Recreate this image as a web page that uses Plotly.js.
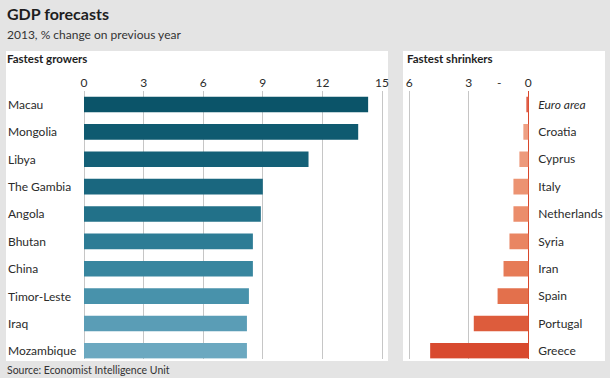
<!DOCTYPE html>
<html>
<head>
<meta charset="utf-8">
<script src="https://cdn.plot.ly/plotly-3.0.1.min.js"></script>
<style>html,body{margin:0;padding:0;background:#e4e4e4;}#chart{width:610px;height:378px;}</style>
</head>
<body>
<div id="chart"></div>
<script>
// Data
const growers = ["Macau","Mongolia","Libya","The Gambia","Angola","Bhutan","China","Timor-Leste","Iraq","Mozambique"];
const growerValues = [14.3, 13.8, 11.3, 9.0, 8.9, 8.5, 8.5, 8.3, 8.2, 8.2];
const growerColors = ["#0b5469","#0f5a70","#146077","#1a677f","#227189","#2d7c95","#38869f","#4892ab","#5a9db6","#6ba8c0"];

const shrinkers = ["Euro area","Croatia","Cyprus","Italy","Netherlands","Syria","Iran","Spain","Portugal","Greece"];
const shrinkerLabels = ["<i>Euro area</i>","Croatia","Cyprus","Italy","Netherlands","Syria","Iran","Spain","Portugal","Greece"];
const shrinkerValues = [0.1, 0.25, 0.45, 0.75, 0.75, 0.95, 1.25, 1.55, 2.75, 4.95];
const shrinkerColors = ["#e0604a","#eea084","#ed9a7c","#ec9372","#eb8d6b","#e98562","#e67b57","#e3704c","#dd5c3c","#d84a2f"];

const growerTicks = [0, 3, 6, 9, 12, 15];
const shrinkerTicks = [6, 3, 0];

const W = 610, H = 378;
const px = v => v / W;
const py = v => 1 - v / H;
const font = "Lato, 'Open Sans', sans-serif";

const traces = [
  {type: "bar", orientation: "h", x: growerValues, y: growers, xaxis: "x", yaxis: "y",
   marker: {color: growerColors}, hoverinfo: "x+y"},
  {type: "bar", orientation: "h", x: shrinkerValues, y: shrinkers, xaxis: "x2", yaxis: "y2",
   marker: {color: shrinkerColors}, hoverinfo: "x+y"}
];

const yDomain = [py(358.5), py(90.8)];

const annotations = growers.map(c => ({
  text: c, xref: "paper", yref: "y", x: px(6), y: c, xanchor: "left", yanchor: "middle",
  showarrow: false, font: {family: font, size: 12, color: "#2b2b2b"}
}));
annotations.push(
  {text: "<b>GDP forecasts</b>", xref: "paper", yref: "paper", x: px(5), y: py(14), xanchor: "left", yanchor: "middle",
   showarrow: false, font: {family: font, size: 16, color: "#1e1e1e"}},
  {text: "2013, % change on previous year", xref: "paper", yref: "paper", x: px(5), y: py(35), xanchor: "left", yanchor: "middle",
   showarrow: false, font: {family: font, size: 12, color: "#333"}},
  {text: "<b>Fastest growers</b>", xref: "paper", yref: "paper", x: px(5), y: py(58), xanchor: "left", yanchor: "middle",
   showarrow: false, font: {family: font, size: 11.5, color: "#1e1e1e"}},
  {text: "<b>Fastest shrinkers</b>", xref: "paper", yref: "paper", x: px(405), y: py(58), xanchor: "left", yanchor: "middle",
   showarrow: false, font: {family: font, size: 11.5, color: "#1e1e1e"}},
  {text: "Source: Economist Intelligence Unit", xref: "paper", yref: "paper", x: px(5), y: py(370), xanchor: "left", yanchor: "middle",
   showarrow: false, font: {family: font, size: 10.5, color: "#333"}},
  {text: "-", xref: "x2", yref: "paper", x: 1.5, y: py(82), xanchor: "center", yanchor: "middle",
   showarrow: false, font: {family: font, size: 12, color: "#333"}}
);

const layout = {
  width: W, height: H,
  margin: {l: 0, r: 0, t: 0, b: 0},
  paper_bgcolor: "#e4e4e4",
  plot_bgcolor: "rgba(0,0,0,0)",
  showlegend: false,
  bargap: 0.43,
  shapes: [
    {type: "rect", xref: "paper", yref: "paper", x0: px(6), x1: px(388), y0: py(361), y1: py(51),
     fillcolor: "#ffffff", line: {width: 0}, layer: "below"},
    {type: "rect", xref: "paper", yref: "paper", x0: px(403), x1: px(605), y0: py(361), y1: py(51),
     fillcolor: "#ffffff", line: {width: 0}, layer: "below"}
  ],
  xaxis: {
    domain: [px(84), px(388)], range: [0, 15.3], side: "top", anchor: "y",
    tickvals: growerTicks, ticktext: growerTicks.map(String),
    showgrid: true, gridcolor: "#c6c6c6", gridwidth: 1,
    zeroline: true, zerolinecolor: "#c6c6c6", zerolinewidth: 1,
    showline: false, ticks: "", fixedrange: true,
    tickfont: {family: font, size: 12, color: "#2b2b2b"}
  },
  yaxis: {
    domain: yDomain, type: "category", range: [9.28, -0.5], anchor: "x",
    showticklabels: false, showgrid: false, zeroline: false, ticks: "", fixedrange: true
  },
  xaxis2: {
    domain: [px(403), px(529.3)], range: [6.32, -0.05], side: "top", anchor: "y2",
    tickvals: shrinkerTicks, ticktext: shrinkerTicks.map(String),
    showgrid: true, gridcolor: "#c6c6c6", gridwidth: 1,
    zeroline: true, zerolinecolor: "#d9472b", zerolinewidth: 1.5,
    showline: false, ticks: "", fixedrange: true,
    tickfont: {family: font, size: 12, color: "#2b2b2b"}
  },
  yaxis2: {
    domain: yDomain, type: "category", range: [9.28, -0.5], anchor: "x2", side: "right",
    tickvals: shrinkers, ticktext: shrinkerLabels, ticklabelstandoff: 8,
    showgrid: false, zeroline: false, ticks: "", fixedrange: true,
    tickfont: {family: font, size: 12, color: "#2b2b2b"}
  },
  annotations: annotations
};

Plotly.newPlot("chart", traces, layout, {displayModeBar: false, staticPlot: true});
</script>
</body>
</html>
